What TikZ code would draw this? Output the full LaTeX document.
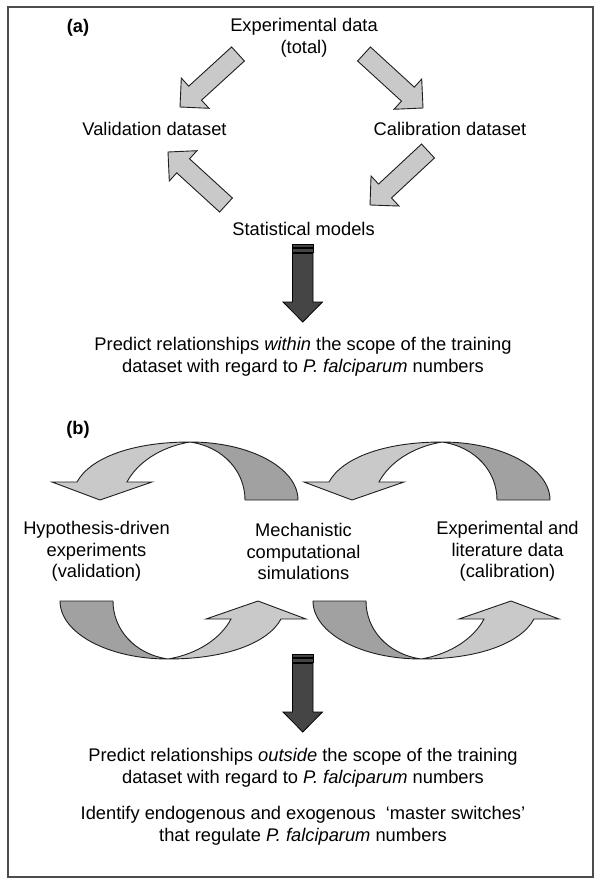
\documentclass[tikz,border=0pt]{standalone}
\usepackage{fontspec}
\setmainfont{Liberation Sans}
\usetikzlibrary{calc}
\definecolor{lightg}{gray}{0.79}
\definecolor{darkg}{gray}{0.63}
\definecolor{heavy}{gray}{0.27}
\definecolor{edge}{gray}{0.12}
\newcommand\blockarr[2]{%
  \coordinate (neck) at ($(#2)!20.5pt!(#1)$);
  \filldraw[lightarrow] ($(#1)!9.5pt!90:(#2)$) -- ($(neck)!9.5pt!90:(#2)$) -- ($(neck)!20.5pt!90:(#2)$) -- (#2) -- ($(neck)!20.5pt!-90:(#2)$) -- ($(neck)!9.5pt!-90:(#2)$) -- ($(#1)!9.5pt!-90:(#2)$) -- cycle;
}
\newcommand\twistarrow{%
  \filldraw[darkpart] (190,442) .. controls (250,442) and (298,468) .. (298,500) -- (245,500) .. controls (245,472) and (224,447) .. (190,442) -- cycle;
  \filldraw[lightpart] (190,442) .. controls (132,442) and (90,458) .. (77,482) -- (52,482) -- (100,500) -- (152,482) -- (127,482) .. controls (137,463) and (160,447) .. (190,442) -- cycle;
}
\newcommand\stripedarrow{%
  \filldraw[heavyarrow] (292.5,244) rectangle (313,247.3);
  \filldraw[heavyarrow] (292.5,248.7) rectangle (313,252);
  \filldraw[heavyarrow] (292.5,253.5) -- (313,253.5) -- (313,302) -- (322.5,302) -- (302.75,322) -- (283,302) -- (292.5,302) -- cycle;
}
\begin{document}
\begin{tikzpicture}[x=1pt,y=-1pt,
  lbl/.style={font=\fontsize{18.3}{21.6}\selectfont, inner sep=0pt, align=center},
  tag/.style={font=\fontsize{18.3}{21.6}\selectfont\bfseries, inner sep=0pt},
  lightarrow/.style={fill=lightg, draw=edge, line width=0.9pt, line join=miter},
  lightpart/.style={fill=lightg, draw=edge, line width=0.9pt},
  darkpart/.style={fill=darkg, draw=edge, line width=0.9pt},
  heavyarrow/.style={fill=heavy, draw=black, line width=0.8pt}]
\useasboundingbox (0,0) rectangle (600,885);
\fill[white] (0,0) rectangle (600,885);
\draw[line width=1.6pt, draw=black!70] (8,7) rectangle (593,877);
% ---- (a)
\node[tag] (la) at (78,28) {(a)};
\node[lbl] (exp) at (304,38) {Experimental data\\(total)};
\node[lbl] (val) at (154.5,129) {Validation dataset};
\node[lbl] (cal) at (450,129) {Calibration dataset};
\node[lbl] (stat) at (303.5,229) {Statistical models};
\node[lbl] (pw) at (303,357) {Predict relationships \textit{within} the scope of the training\\dataset with regard to \textit{P. falciparum} numbers};
\coordinate (a1t) at (238,54);  \coordinate (a1h) at (180,107);
\coordinate (a2t) at (364,54);  \coordinate (a2h) at (423,108);
\coordinate (a3t) at (428,151); \coordinate (a3h) at (370,205);
\coordinate (a4t) at (226,205); \coordinate (a4h) at (168,152);
\blockarr{a1t}{a1h}
\blockarr{a2t}{a2h}
\blockarr{a3t}{a3h}
\blockarr{a4t}{a4h}
\stripedarrow
% ---- (b)
\node[tag] (lb) at (78,430) {(b)};
\node[lbl] (hyp) at (96.5,551.5) {Hypothesis-driven\\experiments\\(validation)};
\node[lbl] (mech) at (303.5,551.5) {Mechanistic\\computational\\simulations};
\node[lbl] (expl) at (507.5,551.5) {Experimental and\\literature data\\(calibration)};
\twistarrow
\begin{scope}[xshift=252pt]\twistarrow\end{scope}
\begin{scope}[rotate around={180:(179,550.5)}]\twistarrow\end{scope}
\begin{scope}[xshift=253pt]\begin{scope}[rotate around={180:(179,550.5)}]\twistarrow\end{scope}\end{scope}
\begin{scope}[shift={(0,410)}]\stripedarrow\end{scope}
\node[lbl] (po) at (303,767.5) {Predict relationships \textit{outside} the scope of the training\\dataset with regard to \textit{P. falciparum} numbers};
\node[lbl] (id) at (303,826) {Identify endogenous and exogenous \ ‘master switches’\\that regulate \textit{P. falciparum} numbers};
\end{tikzpicture}
\end{document}
